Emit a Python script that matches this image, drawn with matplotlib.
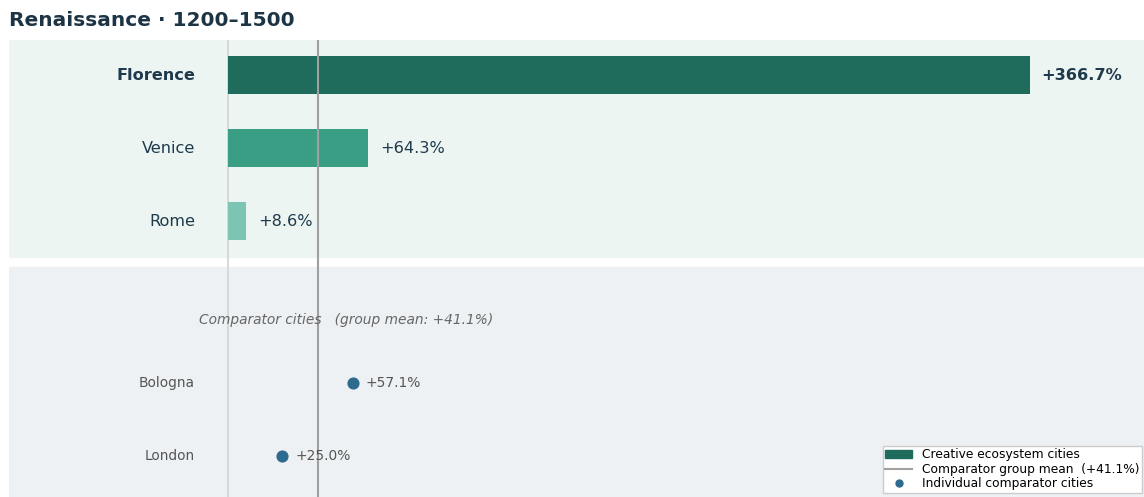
import matplotlib.pyplot as plt
from matplotlib.patches import Patch
from matplotlib.lines import Line2D

# growth 1200-1500, percent
eco_cities = ["Florence", "Venice", "Rome"]
eco_growth = [366.7, 64.3, 8.6]
eco_colors = ["#1f6b5c", "#3a9e85", "#7ec4b2"]

comp_cities = ["Bologna", "London"]
comp_growth = [57.1, 25.0]
comp_mean = 41.1

eco_y = [0, 1, 2]
comp_y = [4.22, 5.22]

fig = plt.figure(figsize=(11.44, 4.97), dpi=100)
ax = fig.add_axes([9 / 1144, 0, 1135 / 1144, 457 / 497])

ax.set_xlim(-100, 419)
ax.set_ylim(5.78, -0.48)
ax.axis("off")

# panel backgrounds
ax.axhspan(-0.48, 2.49, color="#edf5f2", zorder=0)
ax.axhspan(2.63, 6.0, color="#edf1f4", zorder=0)

ax.axvline(0, color="#d2d7d7", lw=1.3, zorder=1)
ax.axvline(comp_mean, color="#a0a0a0", lw=1.5, zorder=3)

bars = ax.barh(eco_y, eco_growth, height=0.52, color=eco_colors, zorder=2)
for i, (name, v) in enumerate(zip(eco_cities, eco_growth)):
    bold = "bold" if i == 0 else "normal"
    ax.text(-15, eco_y[i], name, ha="right", va="center", fontsize=11.6,
            fontweight=bold, color="#1e3a4c")
    ax.text(v + 5.5, eco_y[i], f"+{v:.1f}%", ha="left", va="center",
            fontsize=11.6, fontweight=bold, color="#1e3a4c")

ax.text(-13, 3.36, f"Comparator cities   (group mean: +{comp_mean:.1f}%)",
        ha="left", va="center", fontsize=9.9, style="italic", color="#666666")

ax.scatter(comp_growth, comp_y, s=60, color="#2d6a8e", zorder=4)
for name, v, y in zip(comp_cities, comp_growth, comp_y):
    ax.text(-15, y, name, ha="right", va="center", fontsize=9.9, color="#555555")
    ax.text(v + 6, y, f"+{v:.1f}%", ha="left", va="center", fontsize=9.9,
            color="#555555")

handles = [
    Patch(color="#1f6b5c", label="Creative ecosystem cities"),
    Line2D([], [], color="#a0a0a0", lw=1.5,
           label=f"Comparator group mean  (+{comp_mean:.1f}%)"),
    Line2D([], [], marker="o", ls="none", color="#2d6a8e", markersize=5,
           label="Individual comparator cities"),
]
ax.legend(handles=handles, loc="lower right", bbox_to_anchor=(1.0035, -0.004),
          fontsize=8.8, frameon=True, fancybox=False, edgecolor="#cccccc",
          framealpha=1, borderpad=0.2, labelspacing=0.12, handlelength=2.2)

fig.text(9 / 1144, 1 - 20 / 497, "Renaissance · 1200–1500", ha="left",
         va="center", fontsize=14.5, fontweight="bold", color="#1c3444")

fig.savefig("out.png", dpi=100)
